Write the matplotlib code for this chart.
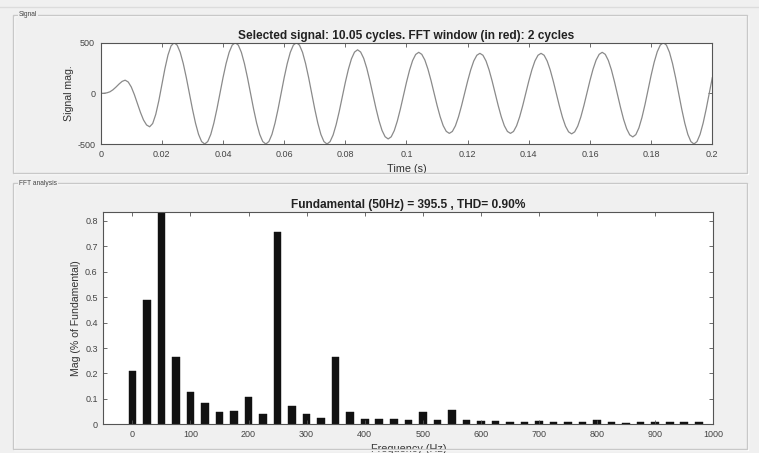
import numpy as np
import matplotlib
matplotlib.use('Agg')
from matplotlib import pyplot as plt
from matplotlib.patches import Rectangle

plt.rcParams['font.family'] = ['Liberation Sans', 'DejaVu Sans']
plt.rcParams['axes.unicode_minus'] = False

# --- signal, every 1 ms (0 .. 200 ms) ---
time_ms = np.arange(0, 201)
signal_mag = [
    0, 1, 5, 15, 35, 62, 92, 118, 130, 112, 63, -12, -100, -188, -263, -312,
    -330, -298, -208, -74, 85, 244, 378, 468,
    500, 476, 405, 294, 155, 0, -155, -294, -405, -476,
    -500, -476, -405, -294, -155, 0, 155, 294, 405, 476,
    500, 476, 405, 294, 155, 0, -155, -294, -405, -476,
    -500, -476, -405, -294, -155, 0, 155, 294, 405, 476,
    500, 476, 405, 294, 155, 0, -155, -294, -405, -476,
    -500, -477, -411, -308, -179, -35, 109, 238, 341, 407,
    430, 408, 346, 249, 126, -10, -146, -269, -366, -428,
    -450, -429, -368, -273, -154, -22, 110, 229, 324, 384,
    405, 385, 329, 240, 129, 5, -119, -230, -319, -375,
    -395, -376, -320, -232, -122, 0, 122, 232, 320, 376,
    395, 376, 320, 232, 122, 0, -122, -232, -320, -376,
    -395, -376, -320, -232, -122, 0, 122, 232, 320, 376,
    395, 376, 319, 231, 120, -2, -125, -236, -324, -380,
    -400, -380, -323, -234, -122, 2, 127, 239, 328, 385,
    405, 385, 325, 233, 116, -12, -141, -258, -350, -410,
    -430, -407, -341, -238, -109, 35, 179, 308, 411, 477,
    500, 476, 405, 294, 155, 0, -155, -294, -405, -476,
    -500, -476, -405, -294, -155, 0, 155,
]

# --- FFT bars, 25 Hz steps (50 Hz fundamental is clipped at the top) ---
freq_hz = np.arange(0, 1000, 25)
mag_pct = [
    0.21, 0.49, 100.0, 0.266, 0.127, 0.082, 0.048, 0.052, 0.106, 0.039,
    0.757, 0.072, 0.039, 0.026, 0.266, 0.048, 0.02, 0.022, 0.02, 0.017,
    0.047, 0.018, 0.055, 0.015, 0.012, 0.012, 0.011, 0.011, 0.012, 0.011,
    0.010, 0.009, 0.016, 0.009, 0.004, 0.008, 0.008, 0.008, 0.011, 0.008,
]

sig_title = 'Selected signal: 10.05 cycles. FFT window (in red): 2 cycles'
fft_title = 'Fundamental (50Hz) = 395.5 , THD= 0.90%'

BG = '#f0f0f0'
AX_COL = '#555555'
TXT = '#333333'

W, H = 759, 453
fig = plt.figure(figsize=(W / 100, H / 100), dpi=100, facecolor=BG)


def px_rect(x0, y0, x1, y1):
    # pixel box (top-left origin) -> figure fraction [l, b, w, h]
    return [x0 / W, 1 - y1 / H, (x1 - x0) / W, (y1 - y0) / H]


def panel(x0, y0, x1, y1, label):
    l, b, w, h = px_rect(x0, y0, x1, y1)
    fig.patches.append(Rectangle((l + 1 / W, b - 1 / H), w, h, transform=fig.transFigure,
                                 fill=False, ec='white', lw=1.0, zorder=0))
    fig.patches.append(Rectangle((l, b), w, h, transform=fig.transFigure,
                                 fill=False, ec='#c8c8c8', lw=1.0, zorder=0))
    fig.text((x0 + 6) / W, 1 - y0 / H, label, fontsize=4.8, color='#444444',
             va='center', ha='left',
             bbox=dict(fc=BG, ec='none', pad=0.5))


def style(ax):
    ax.set_facecolor('white')
    for s in ax.spines.values():
        s.set_color(AX_COL)
        s.set_linewidth(0.8)
    ax.tick_params(direction='in', top=True, right=True, length=3, width=0.6,
                   colors=AX_COL, labelcolor='#444444', labelsize=6.5, pad=4)


# top strip line of the window
fig.add_artist(plt.Line2D([0, 1], [1 - 7 / H, 1 - 7 / H], color='#dcdcdc', lw=1.0))

panel(13, 15, 747, 173, 'Signal')
panel(13, 183, 747, 449, 'FFT analysis')

# --- signal axes ---
ax1 = fig.add_axes(px_rect(100.7, 42.7, 712.3, 144))
ax1.plot(time_ms / 1000, signal_mag, color='#8a8a8a', lw=0.9)
ax1.set_xlim(0, 0.2)
ax1.set_ylim(-500, 500)
ax1.set_xticks(np.arange(0, 0.201, 0.02))
ax1.set_xticklabels(['0', '0.02', '0.04', '0.06', '0.08', '0.1', '0.12', '0.14',
                     '0.16', '0.18', '0.2'])
ax1.set_yticks([-500, 0, 500])
style(ax1)
ax1.set_title(sig_title, fontsize=8.6, fontweight='bold', color='#222222', pad=3)
ax1.set_xlabel('Time (s)', fontsize=7.8, color=TXT, labelpad=4)
ax1.set_ylabel('Signal mag.', fontsize=7.6, color=TXT, labelpad=2)

# --- FFT axes ---
ax2 = fig.add_axes(px_rect(103.3, 211.7, 713.3, 424.3))
ax2.bar(freq_hz, mag_pct, width=13, color='#111111', edgecolor='#111111', lw=0.3)
ax2.set_xlim(-50, 1000)
ax2.set_ylim(0, 0.836)
ax2.set_xticks(np.arange(0, 1001, 100))
ax2.set_yticks(np.arange(0, 0.81, 0.1))
ax2.set_yticklabels(['0', '0.1', '0.2', '0.3', '0.4', '0.5', '0.6', '0.7', '0.8'])
style(ax2)
ax2.set_title(fft_title, fontsize=8.6, fontweight='bold', color='#222222', pad=3)
ax2.set_xlabel('Frequency (Hz)', fontsize=7.8, color=TXT, labelpad=4)
ax2.set_ylabel('Mag (% of Fundamental)', fontsize=7.6, color=TXT, labelpad=3)

fig.savefig('out.png', dpi=100, facecolor=BG)
